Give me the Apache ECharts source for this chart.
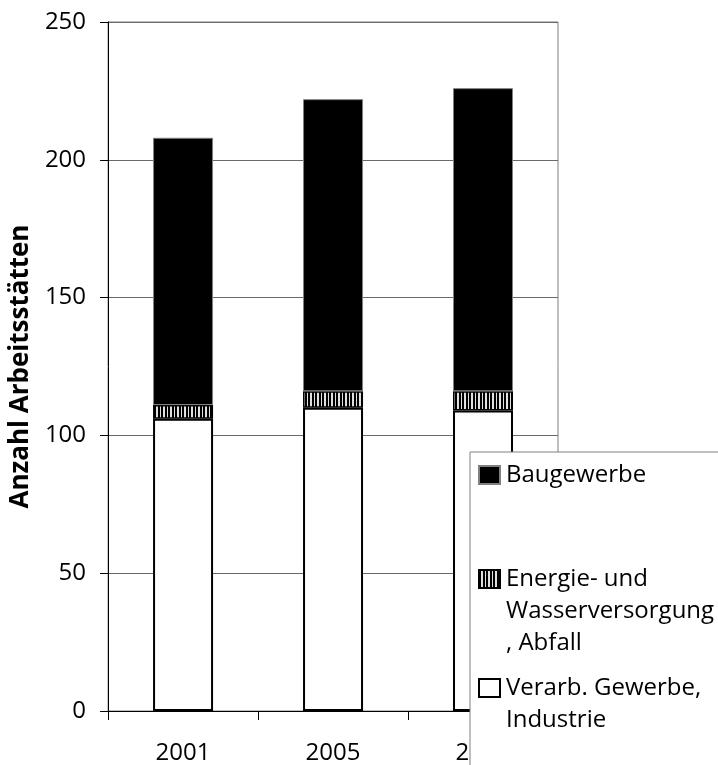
<!DOCTYPE html>
<html><head><meta charset="utf-8">
<script src="https://cdn.jsdelivr.net/npm/echarts@6/dist/echarts.min.js"></script>
<style>html,body{margin:0;padding:0;background:#fff}#c{width:718px;height:765px}</style>
</head><body><div id="c"></div>
<script>
const categories = ['2001', '2005', '2009'];
const verarb = [106, 110, 109];
const energie = [5, 6, 7];
const bau = [97, 106, 110];
const yTicks = {min: 0, max: 250, interval: 50};
const names = ['Baugewerbe', 'Energie- und\nWasserversorgung\n, Abfall', 'Verarb. Gewerbe,\nIndustrie'];

const cv = document.createElement('canvas');
cv.width = 7; cv.height = 4;
const cx = cv.getContext('2d');
cx.fillStyle = '#e0e0e0'; cx.fillRect(0, 0, 7, 4);
cx.fillStyle = '#000'; cx.fillRect(0, 0, 2, 4); cx.fillRect(4, 0, 2, 4);
const stripe = {image: cv, repeat: 'repeat'};

const FONT = 'Open Sans';
const L = 32;
function legendFor(name, top, lines) {
  const H = (lines - 1) * L + 18;
  return {
    data: [name], left: 478, top: top, orient: 'vertical', padding: 0, z: 20,
    itemWidth: 21, itemHeight: H, itemGap: 0, selectedMode: false,
    icon: 'path://M0,0H21V18H0Z M0,' + H,
    textStyle: {fontFamily: FONT, fontSize: 24, color: '#000', lineHeight: L, padding: [0, 0, 0, 1]}
  };
}

const chart = echarts.init(document.getElementById('c'));
chart.setOption({
  animation: false,
  backgroundColor: '#fff',
  grid: {left: 107, right: 160, top: 22, bottom: 52, show: true, borderColor: '#808080', borderWidth: 1},
  xAxis: {
    type: 'category', data: categories,
    axisLine: {lineStyle: {color: '#000', width: 1}},
    axisTick: {show: true, length: 9, lineStyle: {color: '#000'}},
    axisLabel: {fontFamily: FONT, fontSize: 24, color: '#000', margin: 30}
  },
  yAxis: {
    type: 'value', min: yTicks.min, max: yTicks.max, interval: yTicks.interval,
    name: 'Anzahl Arbeitsstätten', nameLocation: 'middle', nameGap: 67,
    nameTextStyle: {fontFamily: FONT, fontSize: 26, fontWeight: 'bold', color: '#000'},
    axisLine: {show: true, lineStyle: {color: '#000', width: 1}},
    axisTick: {show: true, length: 8, lineStyle: {color: '#000'}},
    axisLabel: {fontFamily: FONT, fontSize: 24, color: '#000', margin: 22},
    splitLine: {lineStyle: {color: '#6a6a6a', width: 1}}
  },
  legend: [legendFor(names[0], 459, 1), legendFor(names[1], 563, 3), legendFor(names[2], 672, 2)],
  graphic: [{type: 'rect', z: 15, shape: {x: 470, y: 452, width: 300, height: 340},
    style: {fill: '#fff', stroke: '#808080', lineWidth: 1}}],
  series: [
    {name: names[2], type: 'bar', stack: 's', data: verarb, barWidth: 60,
      itemStyle: {color: '#fff', borderColor: '#000', borderWidth: 2}},
    {name: names[1], type: 'bar', stack: 's', data: energie, barWidth: 60,
      itemStyle: {color: stripe, borderColor: '#000', borderWidth: 1.5}},
    {name: names[0], type: 'bar', stack: 's', data: bau, barWidth: 60,
      itemStyle: {color: '#000', borderColor: '#808080', borderWidth: 1}}
  ]
});
</script></body></html>
